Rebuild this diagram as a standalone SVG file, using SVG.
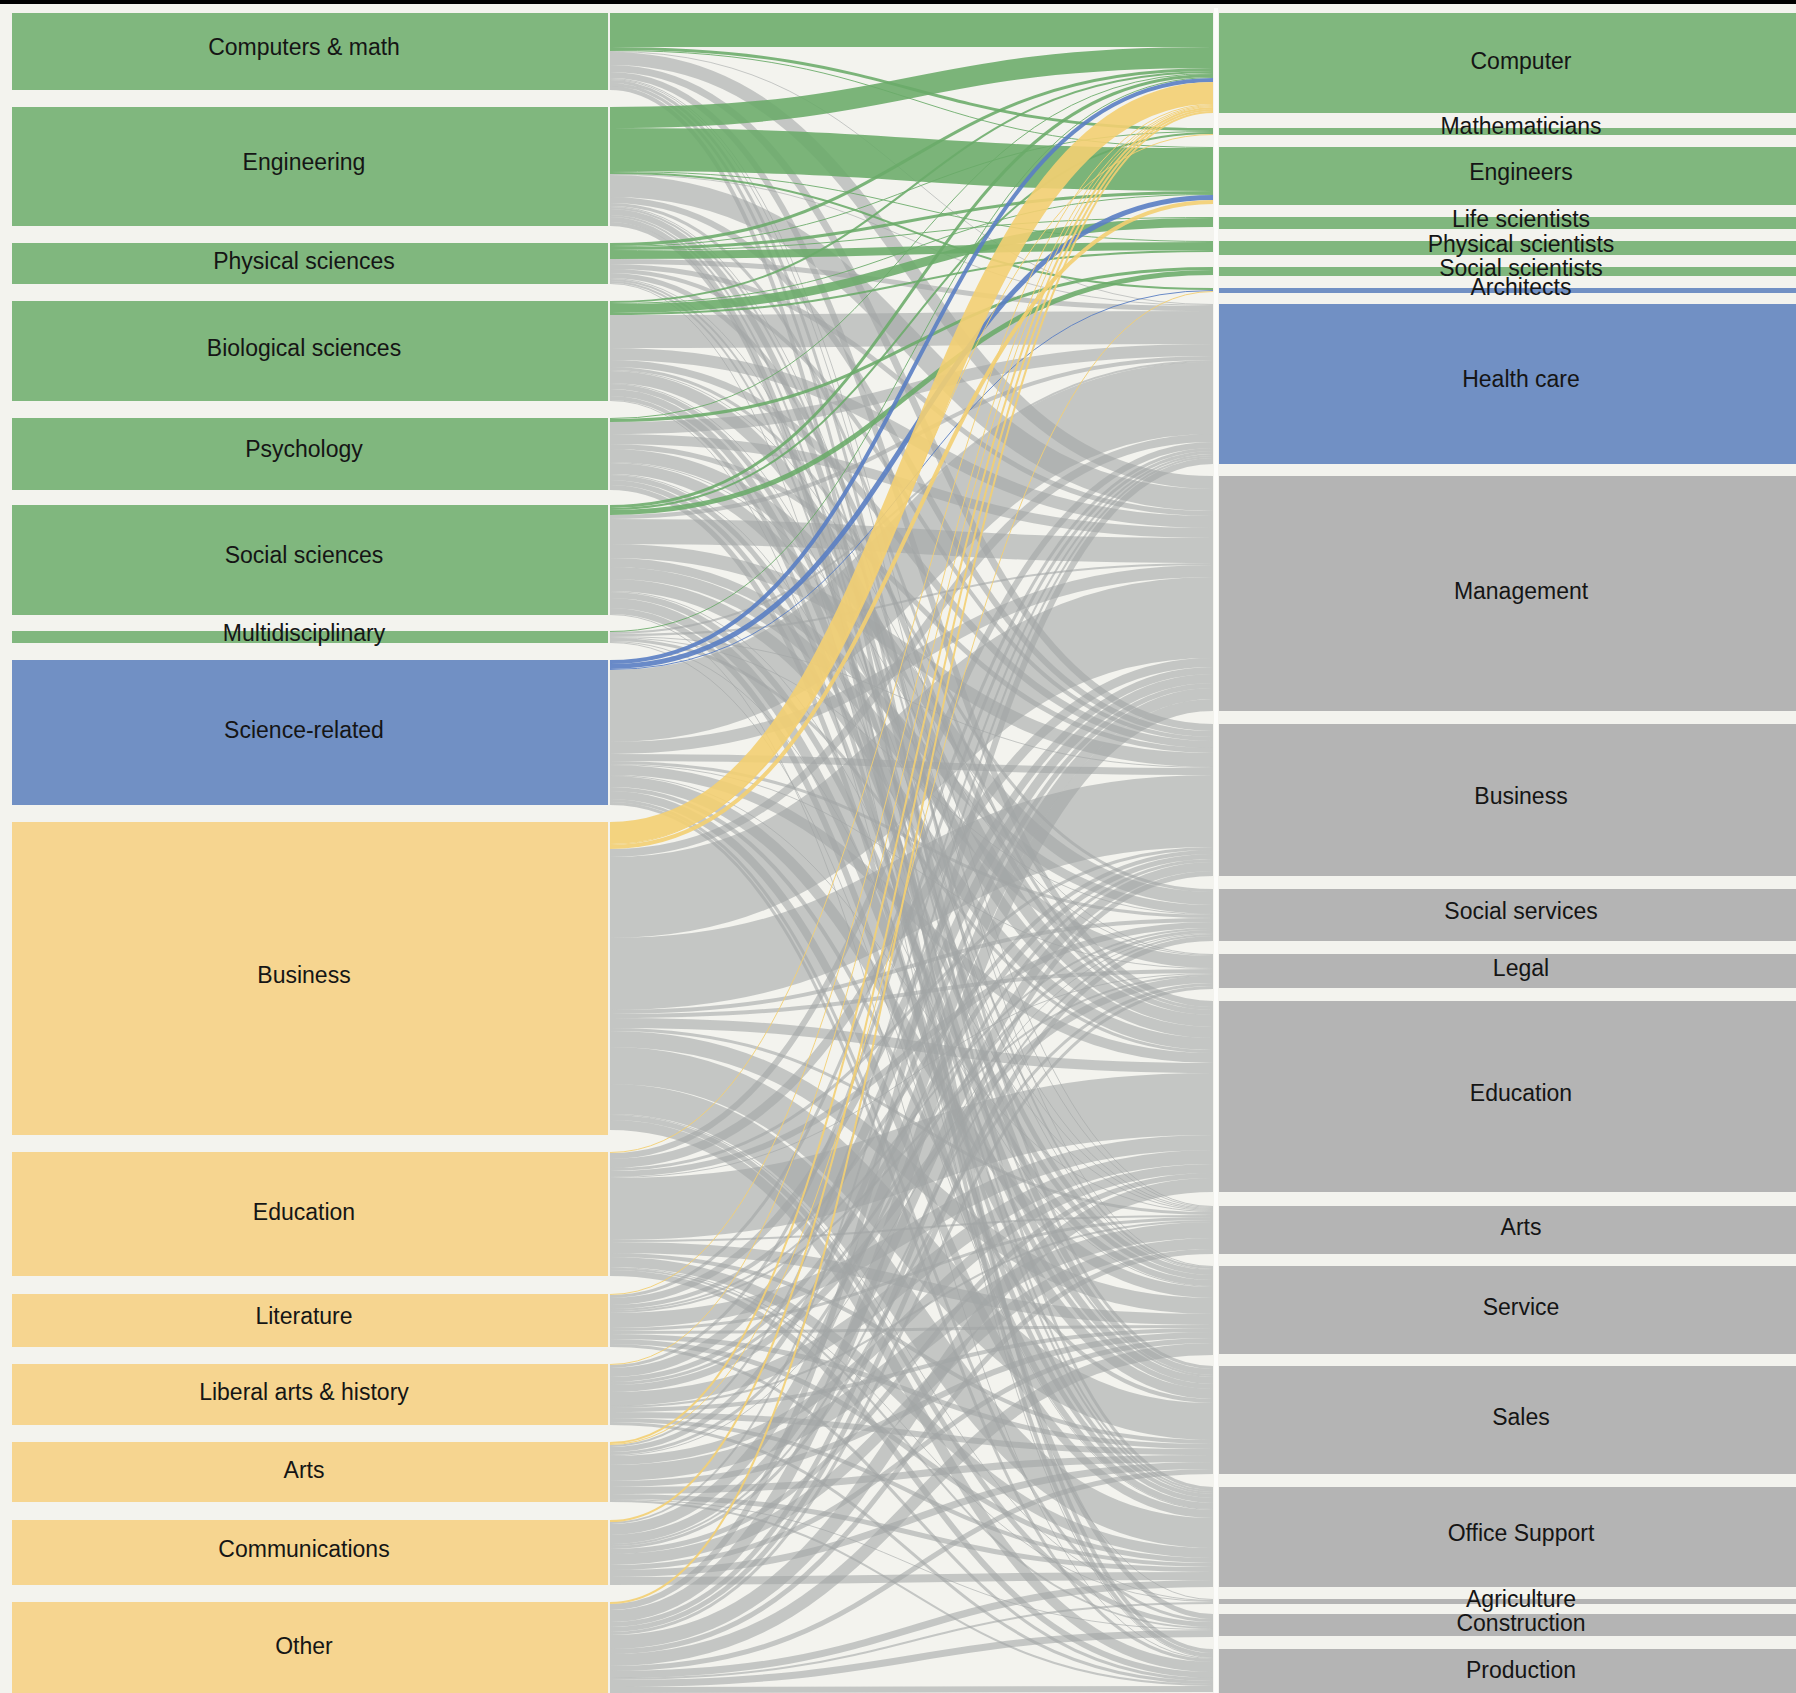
<svg xmlns="http://www.w3.org/2000/svg" width="1796" height="1693" viewBox="0 0 1796 1693">
<style>
.bg{fill:#f3f3ee}
.ng{fill:#80b77e}
.nb{fill:#7190c4}
.ny{fill:#f6d590}
.nx{fill:#b4b4b4}
.lbl{font-family:"Liberation Sans",Arial,sans-serif;font-size:23px;fill:#151515;text-anchor:middle;dominant-baseline:central}
#links path{fill:none}
.g path{stroke:#a2a6a6;stroke-opacity:0.58}
.gr path{stroke:#6aab69;stroke-opacity:0.88}
.bl path{stroke:#5a7ec3;stroke-opacity:0.9}
.ye path{stroke:#f3cf72;stroke-opacity:0.9}
</style>
<rect class="bg" x="0" y="0" width="1796" height="1693"/>
<rect x="0" y="0" width="1796" height="4" fill="#000"/>
<rect x="1214" y="8" width="4" height="1685" fill="#fcfcfa"/>

<g id="links">
<g class="g">
<path d="M610 51.5C912 51.5 912 304.5 1213 304.5" stroke-width="1"/>
<path d="M610 58.5C912 58.5 912 482.5 1213 482.5" stroke-width="13"/>
<path d="M610 68.5C912 68.5 912 727.5 1213 727.5" stroke-width="7"/>
<path d="M610 75C912 75 912 1004 1213 1004" stroke-width="6"/>
<path d="M610 78.5C912 78.5 912 1206.5 1213 1206.5" stroke-width="1"/>
<path d="M610 79.5C912 79.5 912 1266.5 1213 1266.5" stroke-width="1"/>
<path d="M610 81.5C912 81.5 912 1367.5 1213 1367.5" stroke-width="3"/>
<path d="M610 84.5C912 84.5 912 1488.5 1213 1488.5" stroke-width="3"/>
<path d="M610 88C912 88 912 1651 1213 1651" stroke-width="4"/>

<path d="M610 174.5C912 174.5 912 305.5 1213 305.5" stroke-width="1"/>
<path d="M610 186C912 186 912 500 1213 500" stroke-width="22"/>
<path d="M610 200C912 200 912 734 1213 734" stroke-width="6"/>
<path d="M610 204.5C912 204.5 912 1008.5 1213 1008.5" stroke-width="3"/>
<path d="M610 206.5C912 206.5 912 1207.5 1213 1207.5" stroke-width="1"/>
<path d="M610 208C912 208 912 1268 1213 1268" stroke-width="2"/>
<path d="M610 212C912 212 912 1372 1213 1372" stroke-width="6"/>
<path d="M610 216C912 216 912 1491 1213 1491" stroke-width="2"/>
<path d="M610 219.5C912 219.5 912 1616.5 1213 1616.5" stroke-width="5"/>
<path d="M610 224C912 224 912 1655 1213 1655" stroke-width="4"/>

<path d="M610 261.5C912 261.5 912 308.5 1213 308.5" stroke-width="5"/>
<path d="M610 266.5C912 266.5 912 513.5 1213 513.5" stroke-width="5"/>
<path d="M610 271C912 271 912 739 1213 739" stroke-width="4"/>
<path d="M610 275.5C912 275.5 912 1012.5 1213 1012.5" stroke-width="5"/>
<path d="M610 278.5C912 278.5 912 1269.5 1213 1269.5" stroke-width="1"/>
<path d="M610 280C912 280 912 1376 1213 1376" stroke-width="2"/>
<path d="M610 282C912 282 912 1493 1213 1493" stroke-width="2"/>
<path d="M610 283.5C912 283.5 912 1657.5 1213 1657.5" stroke-width="1"/>

<path d="M610 331.5C912 331.5 912 327.5 1213 327.5" stroke-width="33"/>
<path d="M610 354C912 354 912 522 1213 522" stroke-width="12"/>
<path d="M610 363.5C912 363.5 912 744.5 1213 744.5" stroke-width="7"/>
<path d="M610 368.5C912 368.5 912 890.5 1213 890.5" stroke-width="3"/>
<path d="M610 370.5C912 370.5 912 954.5 1213 954.5" stroke-width="1"/>
<path d="M610 377C912 377 912 1021 1213 1021" stroke-width="12"/>
<path d="M610 383.5C912 383.5 912 1208.5 1213 1208.5" stroke-width="1"/>
<path d="M610 386.5C912 386.5 912 1272.5 1213 1272.5" stroke-width="5"/>
<path d="M610 392.5C912 392.5 912 1380.5 1213 1380.5" stroke-width="7"/>
<path d="M610 398C912 398 912 1496 1213 1496" stroke-width="4"/>
<path d="M610 400.5C912 400.5 912 1599.5 1213 1599.5" stroke-width="1"/>

<path d="M610 428C912 428 912 350 1213 350" stroke-width="12"/>
<path d="M610 439C912 439 912 533 1213 533" stroke-width="10"/>
<path d="M610 446.5C912 446.5 912 750.5 1213 750.5" stroke-width="5"/>
<path d="M610 455.5C912 455.5 912 898.5 1213 898.5" stroke-width="13"/>
<path d="M610 462.5C912 462.5 912 955.5 1213 955.5" stroke-width="1"/>
<path d="M610 468.5C912 468.5 912 1032.5 1213 1032.5" stroke-width="11"/>
<path d="M610 474.5C912 474.5 912 1209.5 1213 1209.5" stroke-width="1"/>
<path d="M610 477.5C912 477.5 912 1277.5 1213 1277.5" stroke-width="5"/>
<path d="M610 482.5C912 482.5 912 1386.5 1213 1386.5" stroke-width="5"/>
<path d="M610 487.5C912 487.5 912 1500.5 1213 1500.5" stroke-width="5"/>

<path d="M610 517C912 517 912 358 1213 358" stroke-width="4"/>
<path d="M610 531.5C912 531.5 912 550.5 1213 550.5" stroke-width="25"/>
<path d="M610 551C912 551 912 760 1213 760" stroke-width="14"/>
<path d="M610 562.5C912 562.5 912 909.5 1213 909.5" stroke-width="9"/>
<path d="M610 573C912 573 912 962 1213 962" stroke-width="12"/>
<path d="M610 585C912 585 912 1044 1213 1044" stroke-width="12"/>
<path d="M610 591.5C912 591.5 912 1210.5 1213 1210.5" stroke-width="1"/>
<path d="M610 595C912 595 912 1283 1213 1283" stroke-width="6"/>
<path d="M610 603C912 603 912 1394 1213 1394" stroke-width="10"/>
<path d="M610 611C912 611 912 1506 1213 1506" stroke-width="6"/>
<path d="M610 614.5C912 614.5 912 1658.5 1213 1658.5" stroke-width="1"/>

<path d="M610 633C912 633 912 361 1213 361" stroke-width="2"/>
<path d="M610 635C912 635 912 564 1213 564" stroke-width="2"/>
<path d="M610 636.5C912 636.5 912 767.5 1213 767.5" stroke-width="1"/>
<path d="M610 637.5C912 637.5 912 914.5 1213 914.5" stroke-width="1"/>
<path d="M610 639.5C912 639.5 912 1051.5 1213 1051.5" stroke-width="3"/>
<path d="M610 641.5C912 641.5 912 1286.5 1213 1286.5" stroke-width="1"/>
<path d="M610 642.5C912 642.5 912 1509.5 1213 1509.5" stroke-width="1"/>

<path d="M610 706C912 706 912 398 1213 398" stroke-width="72"/>
<path d="M610 748C912 748 912 571 1213 571" stroke-width="12"/>
<path d="M610 757.5C912 757.5 912 771.5 1213 771.5" stroke-width="7"/>
<path d="M610 762.5C912 762.5 912 916.5 1213 916.5" stroke-width="3"/>
<path d="M610 764.5C912 764.5 912 968.5 1213 968.5" stroke-width="1"/>
<path d="M610 770C912 770 912 1058 1213 1058" stroke-width="10"/>
<path d="M610 775.5C912 775.5 912 1211.5 1213 1211.5" stroke-width="1"/>
<path d="M610 781.5C912 781.5 912 1292.5 1213 1292.5" stroke-width="11"/>
<path d="M610 789C912 789 912 1401 1213 1401" stroke-width="4"/>
<path d="M610 795C912 795 912 1514 1213 1514" stroke-width="8"/>
<path d="M610 800.5C912 800.5 912 1620.5 1213 1620.5" stroke-width="3"/>
<path d="M610 803.5C912 803.5 912 1660.5 1213 1660.5" stroke-width="3"/>

<path d="M610 853C912 853 912 438 1213 438" stroke-width="8"/>
<path d="M610 897.5C912 897.5 912 617.5 1213 617.5" stroke-width="81"/>
<path d="M610 974C912 974 912 811 1213 811" stroke-width="72"/>
<path d="M610 1012C912 1012 912 920 1213 920" stroke-width="4"/>
<path d="M610 1016C912 1016 912 971 1213 971" stroke-width="4"/>
<path d="M610 1023C912 1023 912 1068 1213 1068" stroke-width="10"/>
<path d="M610 1029.5C912 1029.5 912 1213.5 1213 1213.5" stroke-width="3"/>
<path d="M610 1039C912 1039 912 1306 1213 1306" stroke-width="16"/>
<path d="M610 1065.5C912 1065.5 912 1421.5 1213 1421.5" stroke-width="37"/>
<path d="M610 1099C912 1099 912 1533 1213 1533" stroke-width="30"/>
<path d="M610 1114.5C912 1114.5 912 1600.5 1213 1600.5" stroke-width="1"/>
<path d="M610 1117.5C912 1117.5 912 1624.5 1213 1624.5" stroke-width="5"/>
<path d="M610 1125C912 1125 912 1667 1213 1667" stroke-width="10"/>

<path d="M610 1156C912 1156 912 445 1213 445" stroke-width="6"/>
<path d="M610 1163.5C912 1163.5 912 662.5 1213 662.5" stroke-width="9"/>
<path d="M610 1169.5C912 1169.5 912 848.5 1213 848.5" stroke-width="3"/>
<path d="M610 1174C912 1174 912 925 1213 925" stroke-width="6"/>
<path d="M610 1177.5C912 1177.5 912 973.5 1213 973.5" stroke-width="1"/>
<path d="M610 1209C912 1209 912 1104 1213 1104" stroke-width="62"/>
<path d="M610 1241C912 1241 912 1216 1213 1216" stroke-width="2"/>
<path d="M610 1247.5C912 1247.5 912 1319.5 1213 1319.5" stroke-width="11"/>
<path d="M610 1255C912 1255 912 1442 1213 1442" stroke-width="4"/>
<path d="M610 1262C912 1262 912 1553 1213 1553" stroke-width="10"/>
<path d="M610 1267.5C912 1267.5 912 1601.5 1213 1601.5" stroke-width="1"/>
<path d="M610 1269C912 1269 912 1628 1213 1628" stroke-width="2"/>
<path d="M610 1273C912 1273 912 1675 1213 1675" stroke-width="6"/>

<path d="M610 1296.5C912 1296.5 912 449.5 1213 449.5" stroke-width="3"/>
<path d="M610 1301.5C912 1301.5 912 670.5 1213 670.5" stroke-width="7"/>
<path d="M610 1307C912 1307 912 852 1213 852" stroke-width="4"/>
<path d="M610 1310C912 1310 912 929 1213 929" stroke-width="2"/>
<path d="M610 1312C912 1312 912 975 1213 975" stroke-width="2"/>
<path d="M610 1320.5C912 1320.5 912 1142.5 1213 1142.5" stroke-width="15"/>
<path d="M610 1329.5C912 1329.5 912 1218.5 1213 1218.5" stroke-width="3"/>
<path d="M610 1332.5C912 1332.5 912 1326.5 1213 1326.5" stroke-width="3"/>
<path d="M610 1336.5C912 1336.5 912 1446.5 1213 1446.5" stroke-width="5"/>
<path d="M610 1341.5C912 1341.5 912 1560.5 1213 1560.5" stroke-width="5"/>
<path d="M610 1345.5C912 1345.5 912 1679.5 1213 1679.5" stroke-width="3"/>

<path d="M610 1366.5C912 1366.5 912 452.5 1213 452.5" stroke-width="3"/>
<path d="M610 1372.5C912 1372.5 912 678.5 1213 678.5" stroke-width="9"/>
<path d="M610 1379.5C912 1379.5 912 856.5 1213 856.5" stroke-width="5"/>
<path d="M610 1383.5C912 1383.5 912 931.5 1213 931.5" stroke-width="3"/>
<path d="M610 1388.5C912 1388.5 912 979.5 1213 979.5" stroke-width="7"/>
<path d="M610 1399C912 1399 912 1157 1213 1157" stroke-width="14"/>
<path d="M610 1407C912 1407 912 1221 1213 1221" stroke-width="2"/>
<path d="M610 1410C912 1410 912 1330 1213 1330" stroke-width="4"/>
<path d="M610 1415C912 1415 912 1452 1213 1452" stroke-width="6"/>
<path d="M610 1420C912 1420 912 1565 1213 1565" stroke-width="4"/>
<path d="M610 1423.5C912 1423.5 912 1682.5 1213 1682.5" stroke-width="3"/>

<path d="M610 1446C912 1446 912 455 1213 455" stroke-width="2"/>
<path d="M610 1449.5C912 1449.5 912 685.5 1213 685.5" stroke-width="5"/>
<path d="M610 1453.5C912 1453.5 912 860.5 1213 860.5" stroke-width="3"/>
<path d="M610 1455.5C912 1455.5 912 933.5 1213 933.5" stroke-width="1"/>
<path d="M610 1460.5C912 1460.5 912 1168.5 1213 1168.5" stroke-width="9"/>
<path d="M610 1473C912 1473 912 1230 1213 1230" stroke-width="16"/>
<path d="M610 1484C912 1484 912 1335 1213 1335" stroke-width="6"/>
<path d="M610 1490.5C912 1490.5 912 1458.5 1213 1458.5" stroke-width="7"/>
<path d="M610 1496.5C912 1496.5 912 1569.5 1213 1569.5" stroke-width="5"/>
<path d="M610 1499.5C912 1499.5 912 1629.5 1213 1629.5" stroke-width="1"/>
<path d="M610 1501C912 1501 912 1685 1213 1685" stroke-width="2"/>

<path d="M610 1523C912 1523 912 457 1213 457" stroke-width="2"/>
<path d="M610 1529.5C912 1529.5 912 693.5 1213 693.5" stroke-width="11"/>
<path d="M610 1539.5C912 1539.5 912 866.5 1213 866.5" stroke-width="9"/>
<path d="M610 1545C912 1545 912 935 1213 935" stroke-width="2"/>
<path d="M610 1547.5C912 1547.5 912 984.5 1213 984.5" stroke-width="3"/>
<path d="M610 1551.5C912 1551.5 912 1175.5 1213 1175.5" stroke-width="5"/>
<path d="M610 1559.5C912 1559.5 912 1243.5 1213 1243.5" stroke-width="11"/>
<path d="M610 1567.5C912 1567.5 912 1340.5 1213 1340.5" stroke-width="5"/>
<path d="M610 1573.5C912 1573.5 912 1465.5 1213 1465.5" stroke-width="7"/>
<path d="M610 1581C912 1581 912 1576 1213 1576" stroke-width="8"/>

<path d="M610 1607C912 1607 912 461 1213 461" stroke-width="6"/>
<path d="M610 1616C912 1616 912 705 1213 705" stroke-width="12"/>
<path d="M610 1624.5C912 1624.5 912 873.5 1213 873.5" stroke-width="5"/>
<path d="M610 1629.5C912 1629.5 912 938.5 1213 938.5" stroke-width="5"/>
<path d="M610 1633.5C912 1633.5 912 987.5 1213 987.5" stroke-width="3"/>
<path d="M610 1642C912 1642 912 1185 1213 1185" stroke-width="14"/>
<path d="M610 1651.5C912 1651.5 912 1251.5 1213 1251.5" stroke-width="5"/>
<path d="M610 1660C912 1660 912 1349 1213 1349" stroke-width="12"/>
<path d="M610 1668.5C912 1668.5 912 1471.5 1213 1471.5" stroke-width="5"/>
<path d="M610 1674.5C912 1674.5 912 1583.5 1213 1583.5" stroke-width="7"/>
<path d="M610 1679C912 1679 912 1603 1213 1603" stroke-width="2"/>
<path d="M610 1683.5C912 1683.5 912 1633.5 1213 1633.5" stroke-width="7"/>
<path d="M610 1690C912 1690 912 1689 1213 1689" stroke-width="6"/>
</g>

<g class="gr">
<path d="M610 30C912 30 912 30 1213 30" stroke-width="34"/>
<path d="M610 48.5C912 48.5 912 129.5 1213 129.5" stroke-width="3"/>
<path d="M610 50.5C912 50.5 912 147.5 1213 147.5" stroke-width="1"/>
<path d="M610 117.5C912 117.5 912 57.5 1213 57.5" stroke-width="21"/>
<path d="M610 149.5C912 149.5 912 169.5 1213 169.5" stroke-width="43"/>
<path d="M610 171.5C912 171.5 912 241.5 1213 241.5" stroke-width="1"/>
<path d="M610 173C912 173 912 289 1213 289" stroke-width="2"/>
<path d="M610 244.5C912 244.5 912 69.5 1213 69.5" stroke-width="3"/>
<path d="M610 246.5C912 246.5 912 131.5 1213 131.5" stroke-width="1"/>
<path d="M610 248.5C912 248.5 912 192.5 1213 192.5" stroke-width="3"/>
<path d="M610 250.5C912 250.5 912 217.5 1213 217.5" stroke-width="1"/>
<path d="M610 255C912 255 912 246 1213 246" stroke-width="8"/>
<path d="M610 302C912 302 912 72 1213 72" stroke-width="2"/>
<path d="M610 303.5C912 303.5 912 194.5 1213 194.5" stroke-width="1"/>
<path d="M610 308.5C912 308.5 912 222.5 1213 222.5" stroke-width="9"/>
<path d="M610 314C912 314 912 251 1213 251" stroke-width="2"/>
<path d="M610 418.5C912 418.5 912 73.5 1213 73.5" stroke-width="1"/>
<path d="M610 420.5C912 420.5 912 268.5 1213 268.5" stroke-width="3"/>
<path d="M610 506.5C912 506.5 912 75.5 1213 75.5" stroke-width="3"/>
<path d="M610 509C912 509 912 133 1213 133" stroke-width="2"/>
<path d="M610 512.5C912 512.5 912 272.5 1213 272.5" stroke-width="5"/>
<path d="M610 631.5C912 631.5 912 77.5 1213 77.5" stroke-width="1"/>
</g>
<g class="bl">
<path d="M610 662C912 662 912 80 1213 80" stroke-width="4"/>
<path d="M610 666.5C912 666.5 912 197.5 1213 197.5" stroke-width="5"/>
<path d="M610 669.5C912 669.5 912 290.5 1213 290.5" stroke-width="1"/>
</g>
<g class="ye">
<path d="M610 833C912 833 912 93 1213 93" stroke-width="22"/>
<path d="M610 844.5C912 844.5 912 134.5 1213 134.5" stroke-width="1"/>
<path d="M610 847C912 847 912 202 1213 202" stroke-width="4"/>
<path d="M610 1152.5C912 1152.5 912 104.5 1213 104.5" stroke-width="1"/>
<path d="M610 1294.5C912 1294.5 912 105.5 1213 105.5" stroke-width="1"/>
<path d="M610 1364.5C912 1364.5 912 106.5 1213 106.5" stroke-width="1"/>
<path d="M610 1443C912 1443 912 108 1213 108" stroke-width="2"/>
<path d="M610 1444.5C912 1444.5 912 291.5 1213 291.5" stroke-width="1"/>
<path d="M610 1521C912 1521 912 110 1213 110" stroke-width="2"/>
<path d="M610 1603C912 1603 912 112 1213 112" stroke-width="2"/>
</g>
</g>

<g id="n-computers-math"><rect class="ng" x="12" y="13" width="596" height="77"/><text class="lbl" x="304" y="47">Computers &amp; math</text></g>
<g id="n-engineering"><rect class="ng" x="12" y="107" width="596" height="119"/><text class="lbl" x="304" y="162">Engineering</text></g>
<g id="n-physical-sciences"><rect class="ng" x="12" y="243" width="596" height="41"/><text class="lbl" x="304" y="261">Physical sciences</text></g>
<g id="n-biological-sciences"><rect class="ng" x="12" y="301" width="596" height="100"/><text class="lbl" x="304" y="348">Biological sciences</text></g>
<g id="n-psychology"><rect class="ng" x="12" y="418" width="596" height="72"/><text class="lbl" x="304" y="449">Psychology</text></g>
<g id="n-social-sciences"><rect class="ng" x="12" y="505" width="596" height="110"/><text class="lbl" x="304" y="555">Social sciences</text></g>
<g id="n-multidisciplinary"><rect class="ng" x="12" y="631" width="596" height="12"/><text class="lbl" x="304" y="633">Multidisciplinary</text></g>
<g id="n-science-related"><rect class="nb" x="12" y="660" width="596" height="145"/><text class="lbl" x="304" y="730">Science-related</text></g>
<g id="n-business"><rect class="ny" x="12" y="822" width="596" height="313"/><text class="lbl" x="304" y="975">Business</text></g>
<g id="n-education"><rect class="ny" x="12" y="1152" width="596" height="124"/><text class="lbl" x="304" y="1212">Education</text></g>
<g id="n-literature"><rect class="ny" x="12" y="1294" width="596" height="53"/><text class="lbl" x="304" y="1316">Literature</text></g>
<g id="n-liberal-arts"><rect class="ny" x="12" y="1364" width="596" height="61"/><text class="lbl" x="304" y="1392">Liberal arts &amp; history</text></g>
<g id="n-arts"><rect class="ny" x="12" y="1442" width="596" height="60"/><text class="lbl" x="304" y="1470">Arts</text></g>
<g id="n-communications"><rect class="ny" x="12" y="1520" width="596" height="65"/><text class="lbl" x="304" y="1549">Communications</text></g>
<g id="n-other"><rect class="ny" x="12" y="1602" width="596" height="91"/><text class="lbl" x="304" y="1646">Other</text></g>

<g id="n-computer"><rect class="ng" x="1219" y="13" width="577" height="100"/><text class="lbl" x="1521" y="61">Computer</text></g>
<g id="n-mathematicians"><rect class="ng" x="1219" y="128" width="577" height="7"/><text class="lbl" x="1521" y="126">Mathematicians</text></g>
<g id="n-engineers"><rect class="ng" x="1219" y="147" width="577" height="58"/><text class="lbl" x="1521" y="172">Engineers</text></g>
<g id="n-life-scientists"><rect class="ng" x="1219" y="217" width="577" height="12"/><text class="lbl" x="1521" y="219">Life scientists</text></g>
<g id="n-physical-scientists"><rect class="ng" x="1219" y="241" width="577" height="14"/><text class="lbl" x="1521" y="244">Physical scientists</text></g>
<g id="n-social-scientists"><rect class="ng" x="1219" y="267" width="577" height="9"/><text class="lbl" x="1521" y="268">Social scientists</text></g>
<g id="n-architects"><rect class="nb" x="1219" y="288" width="577" height="5"/><text class="lbl" x="1521" y="287">Architects</text></g>
<g id="n-health-care"><rect class="nb" x="1219" y="304" width="577" height="160"/><text class="lbl" x="1521" y="379">Health care</text></g>
<g id="n-management"><rect class="nx" x="1219" y="476" width="577" height="235"/><text class="lbl" x="1521" y="591">Management</text></g>
<g id="n-business-occ"><rect class="nx" x="1219" y="724" width="577" height="152"/><text class="lbl" x="1521" y="796">Business</text></g>
<g id="n-social-services"><rect class="nx" x="1219" y="889" width="577" height="52"/><text class="lbl" x="1521" y="911">Social services</text></g>
<g id="n-legal"><rect class="nx" x="1219" y="954" width="577" height="34"/><text class="lbl" x="1521" y="968">Legal</text></g>
<g id="n-education-occ"><rect class="nx" x="1219" y="1001" width="577" height="191"/><text class="lbl" x="1521" y="1093">Education</text></g>
<g id="n-arts-occ"><rect class="nx" x="1219" y="1206" width="577" height="48"/><text class="lbl" x="1521" y="1227">Arts</text></g>
<g id="n-service"><rect class="nx" x="1219" y="1266" width="577" height="88"/><text class="lbl" x="1521" y="1307">Service</text></g>
<g id="n-sales"><rect class="nx" x="1219" y="1366" width="577" height="108"/><text class="lbl" x="1521" y="1417">Sales</text></g>
<g id="n-office-support"><rect class="nx" x="1219" y="1487" width="577" height="100"/><text class="lbl" x="1521" y="1533">Office Support</text></g>
<g id="n-agriculture"><rect class="nx" x="1219" y="1599" width="577" height="5"/><text class="lbl" x="1521" y="1599">Agriculture</text></g>
<g id="n-construction"><rect class="nx" x="1219" y="1614" width="577" height="22"/><text class="lbl" x="1521" y="1623">Construction</text></g>
<g id="n-production"><rect class="nx" x="1219" y="1649" width="577" height="44"/><text class="lbl" x="1521" y="1670">Production</text></g>
</svg>
